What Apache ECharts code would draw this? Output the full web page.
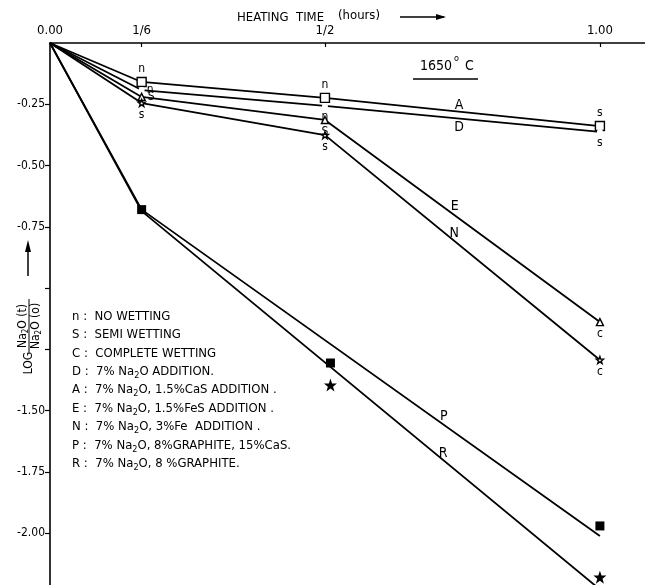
<!DOCTYPE html>
<html>
<head>
<meta charset="utf-8">
<script src="https://cdn.jsdelivr.net/npm/echarts@6/dist/echarts.min.js"></script>
<style>
html,body{margin:0;padding:0;background:#fff;}
#chart{width:645px;height:585px;}
</style>
</head>
<body>
<div id="chart"></div>
<script>
// ---------- data ----------
const hours = [0, 1/6, 1/2, 1];
const seriesA = [0, -0.159, -0.224, -0.339];
const seriesD = [0, -0.192, -0.257, -0.363];
const seriesE = [0, -0.220, -0.314, -1.139];
const seriesN = [0, -0.245, -0.376, -1.294];
const wetA = ['', 'n', 'n', 's'];
const wetD = ['', 'n', 'n', 's'];
const wetE = ['', 'S', 'S', 'c'];
const wetN = ['', 's', 's', 'c'];

const fitHours = [0, 1/6, 1];
const fitP = [0, -0.680, -2.012];
const fitR = [0, -0.686, -2.230];
const obsPHours = [1/6, 0.51, 1];
const obsP = [-0.680, -1.306, -1.971];
const obsRHours = [0.51, 1];
const obsR = [-1.396, -2.180];

const lineNames = ['A', 'D', 'E', 'N', 'P', 'R'];
const lineNameX = [0.744, 0.744, 0.736, 0.735, 0.716, 0.715];
const lineNameY = [-0.253, -0.343, -0.665, -0.776, -1.522, -1.673];

const xTickValues = [0, 1/6, 1/2, 1];
const xTickLabels = ['0.00', '1/6', '1/2', '1.00'];
const yTickValues = [-0.25, -0.5, -0.75, -1.0, -1.25, -1.5, -1.75, -2.0];
const yLabelValues = [-0.25, -0.5, -0.75, -1.5, -1.75, -2.0];

const legendLines = [
  ['n', 'NO WETTING'],
  ['S', 'SEMI WETTING'],
  ['C', 'COMPLETE WETTING'],
  ['D', '7% Na{s|2}O ADDITION.'],
  ['A', '7% Na{s|2}O, 1.5%CaS ADDITION .'],
  ['E', '7% Na{s|2}O, 1.5%FeS ADDITION .'],
  ['N', '7% Na{s|2}O, 3%Fe  ADDITION .'],
  ['P', '7% Na{s|2}O, 8%GRAPHITE, 15%CaS.'],
  ['R', '7% Na{s|2}O, 8 %GRAPHITE.']
];

// ---------- styling / building ----------
const FONT = '"DejaVu Sans Condensed", "Liberation Sans Narrow", "DejaVu Sans", sans-serif';
const INK = '#000';
const STAR = 'path://M0,-10L2.35,-3.24L9.51,-3.09L3.8,1.24L5.88,8.09L0,4L-5.88,8.09L-3.8,1.24L-9.51,-3.09L-2.35,-3.24Z';

function pts(xs, ys) { return xs.map((x, i) => [x, ys[i]]); }

function markedLine(name, ys, wet, symbol, size, labelPos) {
  return {
    name: name, type: 'line', clip: true,
    lineStyle: { color: INK, width: 1.8 },
    itemStyle: { color: '#fff', borderColor: INK, borderWidth: 1.4 },
    symbol: symbol, symbolSize: size, showSymbol: true,
    z: 3,
    data: hours.map((h, i) => ({
      value: [h, ys[i]],
      symbol: i === 0 ? 'none' : symbol,
      label: {
        show: wet[i] !== '',
        formatter: wet[i],
        position: labelPos[i],
        distance: 2,
        color: INK, fontFamily: FONT, fontSize: 12
      }
    }))
  };
}

const series = [
  markedLine('A', seriesA, wetA, 'rect', 9, ['top', 'top', 'top', 'top']),
  markedLine('D', seriesD, wetD, 'emptyCircle', 4, ['top', 'right', 'bottom', 'bottom']),
  markedLine('E', seriesE, wetE, 'triangle', 7, ['top', 'right', 'bottom', 'bottom']),
  markedLine('N', seriesN, wetN, STAR, 7, ['top', 'bottom', 'bottom', 'bottom']),
  { name: 'P fit', type: 'line', clip: true, symbol: 'none',
    lineStyle: { color: INK, width: 1.8 }, data: pts(fitHours, fitP) },
  { name: 'R fit', type: 'line', clip: true, symbol: 'none',
    lineStyle: { color: INK, width: 1.8 }, data: pts(fitHours, fitR) },
  { name: 'P obs', type: 'scatter', symbol: 'rect', symbolSize: 9, z: 4,
    itemStyle: { color: INK, opacity: 1 }, data: pts(obsPHours, obsP) },
  { name: 'R obs', type: 'scatter', symbol: STAR, symbolSize: 13, z: 4,
    itemStyle: { color: INK, opacity: 1 }, data: pts(obsRHours, obsR) },
  { name: 'names', type: 'scatter', symbol: 'circle', symbolSize: 1, z: 5,
    itemStyle: { color: 'rgba(255,255,255,0)', opacity: 1 },
    label: { show: true, position: 'inside', formatter: p => p.name,
             color: INK, fontFamily: FONT, fontSize: 14 },
    data: lineNames.map((n, i) => ({ name: n, value: [lineNameX[i], lineNameY[i]] })) }
];

const legendGraphics = legendLines.map((l, i) => ({
  type: 'text', left: 72, top: 310 + i * 18.4, z: 10,
  style: {
    text: l[0] + ' :  ' + l[1],
    fill: INK, font: '13px ' + FONT,
    rich: { s: { fontSize: 9, fontFamily: FONT, fill: INK, padding: [8, 0, 0, 0] } }
  }
}));

const option = {
  animation: false,
  backgroundColor: '#fff',
  grid: { left: 50, top: 43, right: 0, bottom: 0, containLabel: false },
  xAxis: {
    type: 'value', position: 'top', min: 0, max: 1.082,
    axisLine: { show: true, lineStyle: { color: INK, width: 1.6 } },
    axisTick: { show: true, inside: true, length: 4, customValues: [1/6, 1/2, 1],
                lineStyle: { color: INK, width: 1.2 } },
    axisLabel: { show: true, customValues: xTickValues, margin: 6,
                 color: INK, fontFamily: FONT, fontSize: 13,
                 formatter: v => {
                   let k = 0;
                   xTickValues.forEach((t, i) => { if (Math.abs(t - v) < Math.abs(xTickValues[k] - v)) k = i; });
                   return xTickLabels[k];
                 } },
    splitLine: { show: false }
  },
  yAxis: {
    type: 'value', min: -2.212, max: 0,
    axisLine: { show: true, lineStyle: { color: INK, width: 1.6 } },
    axisTick: { show: true, inside: false, length: 5, customValues: yTickValues,
                lineStyle: { color: INK, width: 1.2 } },
    axisLabel: { show: true, customValues: yLabelValues, margin: 5,
                 color: INK, fontFamily: FONT, fontSize: 12,
                 formatter: v => v.toFixed(2) },
    splitLine: { show: false }
  },
  series: series,
  graphic: [
    { type: 'text', left: 237, top: 11, style: { text: 'HEATING  TIME', fill: INK, font: '13px ' + FONT } },
    { type: 'text', left: 338, top: 9, style: { text: '(hours)', fill: INK, font: '13px ' + FONT } },
    { type: 'line', shape: { x1: 400, y1: 17, x2: 444, y2: 17 }, style: { stroke: INK, lineWidth: 1.5 } },
    { type: 'polygon', shape: { points: [[446, 17], [436, 14], [436, 20]] }, style: { fill: INK } },
    { type: 'text', left: 420, top: 59, style: { text: '1650', fill: INK, font: '14px ' + FONT } },
    { type: 'text', left: 454, top: 54, style: { text: 'o', fill: INK, font: '9px ' + FONT } },
    { type: 'text', left: 465, top: 59, style: { text: 'C', fill: INK, font: '14px ' + FONT } },
    { type: 'line', shape: { x1: 413, y1: 79, x2: 478, y2: 79 }, style: { stroke: INK, lineWidth: 1.5 } },
    // y-axis arrow
    { type: 'line', shape: { x1: 28, y1: 276, x2: 28, y2: 244 }, style: { stroke: INK, lineWidth: 1.5 } },
    { type: 'polygon', shape: { points: [[28, 240], [25, 252], [31, 252]] }, style: { fill: INK } },
    // y-axis title: LOG Na2O(t)/Na2O(o), rotated
    { type: 'group', x: 29, y: 326, rotation: Math.PI / 2, children: [
      { type: 'text', x: -37, y: 0, style: { text: 'LOG', fill: INK, font: '12px ' + FONT, align: 'center', verticalAlign: 'middle' } },
      { type: 'line', shape: { x1: -27, y1: 0, x2: 27, y2: 0 }, style: { stroke: INK, lineWidth: 1 } },
      { type: 'text', x: 0, y: -6, style: { text: 'Na{s|2}O (t)', fill: INK, font: '12px ' + FONT, align: 'center', verticalAlign: 'middle',
        rich: { s: { fontSize: 8, fontFamily: FONT, fill: INK, padding: [6, 0, 0, 0] } } } },
      { type: 'text', x: 0, y: 7, style: { text: 'Na{s|2}O (o)', fill: INK, font: '12px ' + FONT, align: 'center', verticalAlign: 'middle',
        rich: { s: { fontSize: 8, fontFamily: FONT, fill: INK, padding: [6, 0, 0, 0] } } } }
    ] }
  ].concat(legendGraphics)
};

const chart = echarts.init(document.getElementById('chart'), null, { renderer: 'canvas' });
chart.setOption(option);
</script>
</body>
</html>
